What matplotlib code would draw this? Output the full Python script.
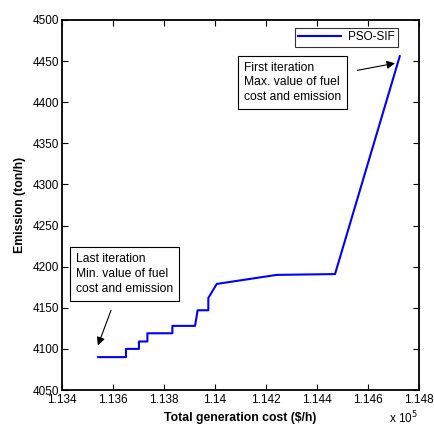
import matplotlib
matplotlib.use("Agg")
import matplotlib.pyplot as plt
from matplotlib.ticker import FuncFormatter

plt.rcParams['font.family'] = ['Liberation Sans', 'DejaVu Sans']

# PSO-SIF convergence: total cost ($/h) vs emission (ton/h)
cost = [113542, 113651, 113651, 113702, 113702, 113735, 113735, 113833, 113833,
        113922, 113932, 113974, 113974, 113980, 114007, 114242, 114471, 114725]
emission = [4090, 4090, 4100, 4100, 4109, 4109, 4119, 4119, 4128,
            4128, 4147, 4147, 4162, 4165, 4179, 4190, 4191, 4456]

xticks = [113400, 113600, 113800, 114000, 114200, 114400, 114600, 114800]
yticks = [4050, 4100, 4150, 4200, 4250, 4300, 4350, 4400, 4450, 4500]

fig = plt.figure(figsize=(4.35, 4.30), dpi=100)
ax = fig.add_axes([0.1425, 0.093, 0.8205, 0.8605])

ax.plot(cost, emission, color='#0000ff', lw=1.5, label='PSO-SIF')

ax.set_xlim(113400, 114800)
ax.set_ylim(4050, 4500)
ax.set_xticks(xticks)
ax.set_yticks(yticks)
ax.xaxis.set_major_formatter(FuncFormatter(lambda v, p: '%g' % (v / 1e5)))
ax.tick_params(direction='in', top=True, right=True, labelsize=8.5, length=4, width=0.8, pad=2)
ax.tick_params(axis='x', pad=3)
for s in ax.spines.values():
    s.set_linewidth(1.3)

ax.set_xlabel('Total generation cost ($/h)', fontsize=8.8, fontweight='bold', labelpad=4)
ax.set_ylabel('Emission (ton/h)', fontsize=8.8, fontweight='bold', labelpad=5)
fig.text(0.895, 0.008, 'x 10$^5$', fontsize=8.5, ha='left', va='bottom')

leg = ax.legend(loc='upper right', fontsize=8.5, fancybox=False, edgecolor='black',
                handlelength=3.6, borderpad=0.3, handletextpad=0.6,
                bbox_to_anchor=(0.958, 0.995))
leg.get_frame().set_linewidth(0.8)

box = dict(boxstyle='square,pad=0.5', fc='white', ec='black', lw=0.8)
arrow = dict(arrowstyle='-|>', color='black', lw=0.8, mutation_scale=12, shrinkA=7)

ax.annotate('First iteration\nMax. value of fuel\ncost and emission',
            xy=(114717, 4448), xytext=(114115, 4424),
            fontsize=8.7, linespacing=1.3, bbox=box, arrowprops=arrow,
            ha='left', va='center')
ax.annotate('Last iteration\nMin. value of fuel\ncost and emission',
            xy=(113537, 4101), xytext=(113455, 4191),
            fontsize=8.7, linespacing=1.3, bbox=box, arrowprops=arrow,
            ha='left', va='center')

fig.savefig('out.png', dpi=100)
